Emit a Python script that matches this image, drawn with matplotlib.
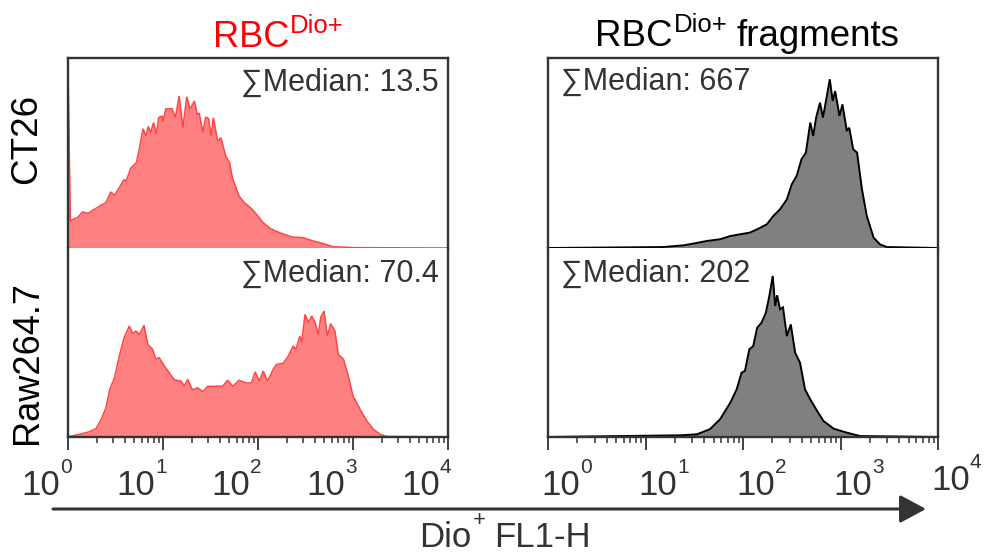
import numpy as np
import matplotlib
matplotlib.use("Agg")
import matplotlib.pyplot as plt
import matplotlib.transforms as mtrans
from matplotlib.patches import FancyArrowPatch

# ---------------- data (log10 of Dio+ FL1-H intensity, % of panel height) ----------------
rbc_ct26_log = [0.0, 0.025, 0.05, 0.10, 0.155, 0.21, 0.26, 0.33, 0.40, 0.45, 0.49, 0.54, 0.59,
                0.61, 0.66, 0.72, 0.75, 0.79, 0.82, 0.845, 0.87, 0.90, 0.93, 0.955, 0.99, 1.0,
                1.03, 1.095, 1.13, 1.17, 1.21, 1.25, 1.285, 1.33, 1.36, 1.38, 1.42, 1.45, 1.48,
                1.505, 1.53, 1.575, 1.61, 1.66, 1.70, 1.73, 1.80, 1.855, 1.93, 1.985, 2.055,
                2.13, 2.23, 2.355, 2.48, 2.58, 2.69, 2.79, 3.0, 4.0]
rbc_ct26_cnt = [95, 14, 15, 16, 19, 18.2, 19.8, 22, 23.9, 29.5, 27.7, 31.8, 36,
                35, 42, 45, 52, 62.8, 59, 64, 60.7, 66, 60, 68.6, 69.5, 66.7,
                73.3, 73.3, 68.6, 80, 63.3, 79.6, 73, 77.4, 70.4, 71, 61, 69, 68,
                59, 68.6, 56.3, 58, 48.4, 45, 37, 27.4, 23.9, 20.8, 17.7, 13.3,
                10.2, 8, 5.8, 5.4, 3.7, 2.3, 0.7, 0.2, 0]

rbc_raw_log = [0.0, 0.03, 0.12, 0.225, 0.295, 0.35, 0.40, 0.44, 0.49, 0.54, 0.59, 0.645, 0.68,
               0.715, 0.75, 0.77, 0.80, 0.84, 0.89, 0.925, 0.96, 1.01, 1.065, 1.12, 1.19, 1.225,
               1.26, 1.31, 1.365, 1.42, 1.47, 1.54, 1.63, 1.68, 1.735, 1.80, 1.875, 1.93, 1.97,
               2.015, 2.055, 2.10, 2.16, 2.195, 2.265, 2.32, 2.37, 2.40, 2.44, 2.46, 2.495,
               2.53, 2.565, 2.60, 2.635, 2.66, 2.695, 2.73, 2.765, 2.81, 2.845, 2.90, 2.95,
               3.0, 3.075, 3.145, 3.215, 3.285, 3.355, 4.0]
rbc_raw_cnt = [0.2, 0.5, 1.4, 2.8, 4.4, 9.3, 15.5, 25.2, 31.4, 42.9, 52.5, 58.7, 54.9,
               56, 54.3, 56, 59.1, 49, 46.4, 41.1, 42, 37.9, 34, 30.2, 29.6, 27,
               30.5, 24.9, 26, 24, 26.8, 26.8, 27, 30, 26.8, 30, 28.6, 28.6, 34.4,
               29.6, 34.9, 29.6, 35.8, 38.4, 39, 42.9, 48.1, 46.4, 53.4, 49.9, 64.9,
               60.5, 64, 60.7, 54.3, 63.3, 66.7, 53.4, 60, 56, 43.7, 41.1, 32.3,
               21.7, 14.6, 8.5, 4.1, 1.4, 0.3, 0]

frag_ct26_log = [0.0, 1.18, 1.39, 1.51, 1.63, 1.765, 1.87, 1.97, 2.07, 2.16, 2.245, 2.31, 2.38,
                 2.45, 2.50, 2.55, 2.60, 2.645, 2.69, 2.72, 2.75, 2.79, 2.82, 2.86, 2.89,
                 2.92, 2.945, 2.99, 3.02, 3.065, 3.09, 3.13, 3.17, 3.22, 3.27, 3.34, 3.405,
                 3.475, 4.0]
frag_ct26_cnt = [0, 0.5, 1.4, 2.5, 3.7, 4.6, 6.3, 7.2, 8.1, 10.2, 12.5, 16.8, 20.4,
                 25.6, 33.5, 37.9, 46.7, 50.2, 66, 59, 68.6, 76.5, 68.6, 80, 88.8,
                 77.4, 82.6, 69.5, 75.6, 61.6, 63.3, 52, 50.2, 30.9, 16.8, 5.4, 1.9,
                 0.5, 0]

frag_raw_log = [0.0, 1.355, 1.525, 1.66, 1.765, 1.87, 1.935, 1.985, 2.02, 2.065, 2.105, 2.145,
                2.19, 2.235, 2.27, 2.305, 2.33, 2.35, 2.38, 2.41, 2.45, 2.49, 2.535, 2.585,
                2.636, 2.69, 2.76, 2.825, 2.93, 3.065, 3.2, 4.0]
frag_raw_cnt = [0, 0.9, 1.4, 4.1, 9.4, 18.2, 25.2, 34, 35, 46.4, 48.1, 57.8,
                60.5, 65.8, 74.6, 85.2, 69.3, 75, 67.6, 68.6, 53.4, 59.6, 44.6, 39.3,
                25.2, 19.9, 13.8, 8.5, 4.4, 2.3, 0.5, 0]

medians = {"rbc_ct26": "13.5", "rbc_raw": "70.4", "frag_ct26": "667", "frag_raw": "202"}
row_labels = ["CT26", "Raw264.7"]
decades = [0, 1, 2, 3, 4]

# ---------------- layout ----------------
W, H = 984, 555
FAM = ["Liberation Sans", "DejaVu Sans"]
plt.rcParams["font.family"] = FAM
fig = plt.figure(figsize=(W / 100, H / 100), dpi=100)


def fx(px):
    return px / W


def fy(py):
    return 1 - py / H


TOP, MID, BOT = 58, 248, 437
COLS = [(68, 448), (548, 938)]
SPINE = "#333333"
TXT = "#333333"


def make_ax(x0, x1, y_top, y_bot, is_top):
    ax = fig.add_axes([fx(x0), fy(y_bot), (x1 - x0) / W, (y_bot - y_top) / H])
    ax.set_xscale("log")
    ax.set_xlim(1, 1e4)
    ax.set_ylim(0, 100)
    ax.set_yticks([])
    for s in ax.spines.values():
        s.set_color(SPINE)
        s.set_linewidth(1.7)
    if is_top:
        ax.spines["bottom"].set_linewidth(0.8)
        ax.spines["bottom"].set_color("#555555")
        ax.tick_params(axis="x", which="both", bottom=False, labelbottom=False)
    else:
        ax.spines["top"].set_visible(False)
        ax.set_xticks([10 ** k for k in decades])
        ax.xaxis.set_minor_locator(matplotlib.ticker.LogLocator(base=10, subs=np.arange(2, 10)))
        ax.tick_params(axis="x", which="major", direction="out", length=9, width=1.3,
                       color=SPINE, labelbottom=False)
        ax.tick_params(axis="x", which="minor", direction="out", length=4, width=1.1,
                       color=SPINE, labelbottom=False)
    ax.set_facecolor("white")
    return ax


axes = {}
for ci, (x0, x1) in enumerate(COLS):
    axes[(0, ci)] = make_ax(x0, x1, TOP, MID, True)
    axes[(1, ci)] = make_ax(x0, x1, MID, BOT, False)

RED_FILL, RED_LINE = "#FF8080", "#FF4545"
GRAY_FILL, GRAY_LINE = "#808080", "#000000"

series = [
    ((0, 0), rbc_ct26_log, rbc_ct26_cnt, RED_FILL, RED_LINE, 1.1),
    ((1, 0), rbc_raw_log, rbc_raw_cnt, RED_FILL, RED_LINE, 1.1),
    ((0, 1), frag_ct26_log, frag_ct26_cnt, GRAY_FILL, GRAY_LINE, 1.4),
    ((1, 1), frag_raw_log, frag_raw_cnt, GRAY_FILL, GRAY_LINE, 1.4),
]
for key, lx, cnt, fc, lc, lw in series:
    ax = axes[key]
    xv = 10 ** np.asarray(lx)
    ax.fill_between(xv, cnt, 0, color=fc, lw=0, zorder=1)
    ax.plot(xv, cnt, color=lc, lw=lw, zorder=2, solid_joinstyle="miter")

# median annotations
MFS = 22
fig.text(fx(439), fy(91), "\u2211Median: " + medians["rbc_ct26"], fontsize=MFS, color=TXT,
         ha="right", va="baseline")
fig.text(fx(439), fy(282), "\u2211Median: " + medians["rbc_raw"], fontsize=MFS, color=TXT,
         ha="right", va="baseline")
fig.text(fx(561), fy(90), "\u2211Median: " + medians["frag_ct26"], fontsize=MFS, color=TXT,
         ha="left", va="baseline")
fig.text(fx(561), fy(282), "\u2211Median: " + medians["frag_raw"], fontsize=MFS, color=TXT,
         ha="left", va="baseline")

# row labels
fig.text(fx(27), fy(139), row_labels[0], fontsize=26.5, rotation=90, ha="center", va="center",
         color="black")
fig.text(fx(27), fy(363), row_labels[1], fontsize=26, rotation=90, ha="center", va="center",
         color="black")

renderer = fig.canvas.get_renderer()


def text_width(s, size):
    t = fig.text(0, 0, s, fontsize=size)
    w = t.get_window_extent(renderer).width
    t.remove()
    return w


def sup_text(x_px, y_px, base, sup, fs, sfs, rise, color, ha="left", after="", gap_em=0.28):
    wb = text_width(base, fs)
    ws = text_width(sup, sfs)
    gap = gap_em * fs * 100 / 72 if after else 0
    wa = text_width(after, fs) if after else 0
    total = wb + ws + gap + wa
    if ha == "center":
        x0 = x_px - total / 2
    elif ha == "right":
        x0 = x_px - total
    else:
        x0 = x_px
    fig.text(fx(x0), fy(y_px), base, fontsize=fs, color=color, ha="left", va="baseline")
    fig.text(fx(x0 + wb + 1), fy(y_px - rise), sup, fontsize=sfs, color=color, ha="left",
             va="baseline")
    if after:
        fig.text(fx(x0 + wb + ws + gap), fy(y_px), after, fontsize=fs, color=color, ha="left",
                 va="baseline")


# titles
sup_text(213, 47, "RBC", "Dio+", 26, 18.5, 14, "#FF0000")
sup_text(595, 46, "RBC", "Dio+", 26.5, 18.5, 14, "black", after="fragments")

# decade tick labels
for ci in range(2):
    ax = axes[(1, ci)]
    trans = mtrans.blended_transform_factory(ax.transData, ax.transAxes)
    for k in decades:
        anchor = -8 if ci == 0 else 32
        dy = -58
        if ci == 1 and k == 4:
            dy = -53
        tb = mtrans.offset_copy(trans, fig=fig, x=anchor, y=dy, units="dots")
        ax.text(10 ** k, 0, "10", transform=tb, fontsize=25, color=TXT, ha="right",
                va="baseline", clip_on=False)
        ts = mtrans.offset_copy(trans, fig=fig, x=anchor, y=dy + 22, units="dots")
        ax.text(10 ** k, 0, str(k), transform=ts, fontsize=15, color=TXT, ha="left",
                va="baseline", clip_on=False)

# arrow
arr = FancyArrowPatch((fx(53), fy(509)), (fx(926), fy(509)), transform=fig.transFigure,
                      arrowstyle="-|>,head_length=16,head_width=8.6", lw=2.2, color=TXT,
                      shrinkA=0, shrinkB=0, mutation_scale=1)
fig.add_artist(arr)

# axis caption
sup_text(505, 547, "Dio", "+", 25, 16, 21, TXT, ha="center", after="FL1-H")

fig.savefig("out.png", dpi=100)
